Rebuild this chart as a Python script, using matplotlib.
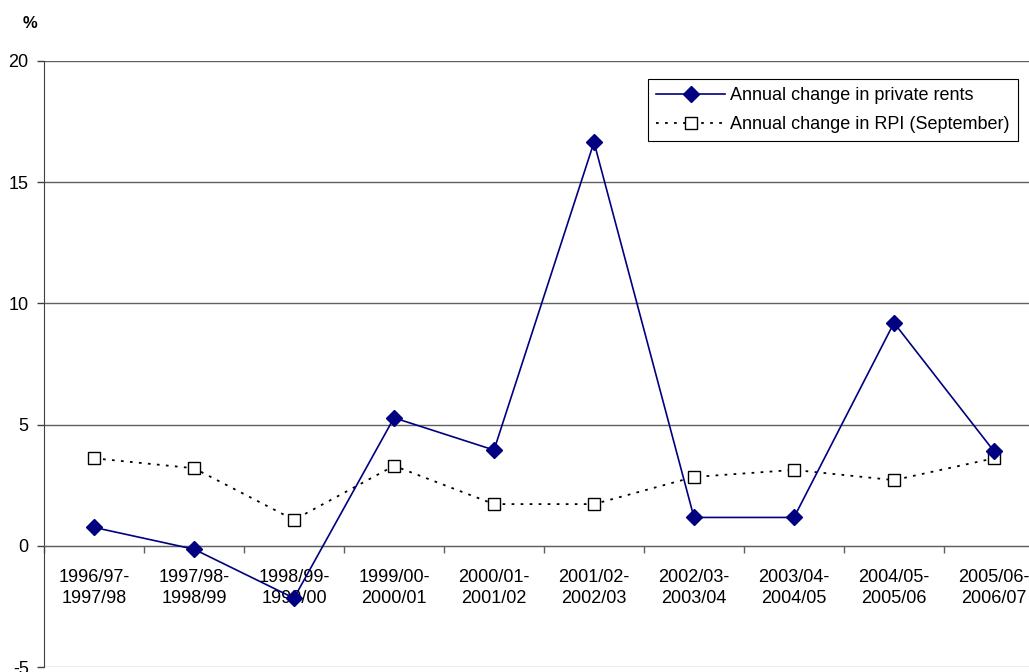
import numpy as np
import matplotlib.pyplot as plt

plt.rcParams['font.family'] = ['Liberation Sans', 'DejaVu Sans']

# 数据
periods = ['1996/97-\n1997/98', '1997/98-\n1998/99', '1998/99-\n1999/00', '1999/00-\n2000/01',
           '2000/01-\n2001/02', '2001/02-\n2002/03', '2002/03-\n2003/04', '2003/04-\n2004/05',
           '2004/05-\n2005/06', '2005/06-\n2006/07']
private_rents = [0.76, -0.14, -2.16, 5.28, 3.95, 16.65, 1.17, 1.17, 9.2, 3.9]
rpi_sept = [3.61, 3.2, 1.07, 3.3, 1.72, 1.72, 2.84, 3.13, 2.71, 3.61]
y_ticks = [-5, 0, 5, 10, 15, 20]

W, H = 1029, 672
fig = plt.figure(figsize=(W / 100, H / 100), dpi=100)
ax = fig.add_axes([44 / W, 5 / H, 1000 / W, 606 / H])

x = np.arange(len(periods))
fs = 13

# 网格线
for v in y_ticks[1:]:
    ax.axhline(v, color='#606060', linewidth=1.0, zorder=1)
ax.axhline(-5, color='#a0a0a0', linewidth=1.0, zorder=1)

ax.plot(x, rpi_sept, color='black', linestyle=(0, (1.5, 3.5)), linewidth=1.3,
        marker='s', markersize=9, markerfacecolor='white', markeredgecolor='black',
        markeredgewidth=1.0, label='Annual change in RPI (September)', zorder=3)
ax.plot(x, private_rents, color='#000080', linewidth=1.2,
        marker='D', markersize=8, markerfacecolor='#000080', markeredgecolor='#000080',
        label='Annual change in private rents', zorder=4)

ax.set_xlim(-0.5, len(periods) - 0.5)
ax.set_ylim(-5, 20)
ax.set_yticks(y_ticks)
ax.set_yticklabels([str(v) for v in y_ticks], fontsize=fs)
ax.tick_params(axis='y', direction='out', length=5, width=1, color='#404040', pad=6)

# x轴在0处
ax.spines['bottom'].set_position(('data', 0))
ax.spines['bottom'].set_color('#606060')
ax.spines['top'].set_visible(False)
ax.spines['right'].set_visible(False)
ax.spines['left'].set_color('#404040')
ax.set_xticks(np.arange(len(periods) + 1) - 0.5)
ax.set_xticklabels([])
ax.tick_params(axis='x', which='major', direction='out', length=5, width=1, color='#606060')
ax.set_xticks(x, minor=True)
ax.set_xticklabels(periods, minor=True, fontsize=fs, linespacing=1.3)
ax.tick_params(axis='x', which='minor', length=0, pad=17)

fig.text(30 / W, 1 - 24 / H, '%', fontsize=12, fontweight='bold', va='center', ha='center')

handles, labels = ax.get_legend_handles_labels()
leg = ax.legend(handles[::-1], labels[::-1], loc='upper right',
                bbox_to_anchor=(1018 / W, 1 - 79 / H), bbox_transform=fig.transFigure,
                fontsize=fs, frameon=True, fancybox=False, framealpha=1,
                edgecolor='black', handlelength=3.8, handletextpad=0.3,
                borderpad=0.45, labelspacing=0.65, borderaxespad=0)
leg.get_frame().set_linewidth(0.8)

fig.savefig('out.png', dpi=100)
